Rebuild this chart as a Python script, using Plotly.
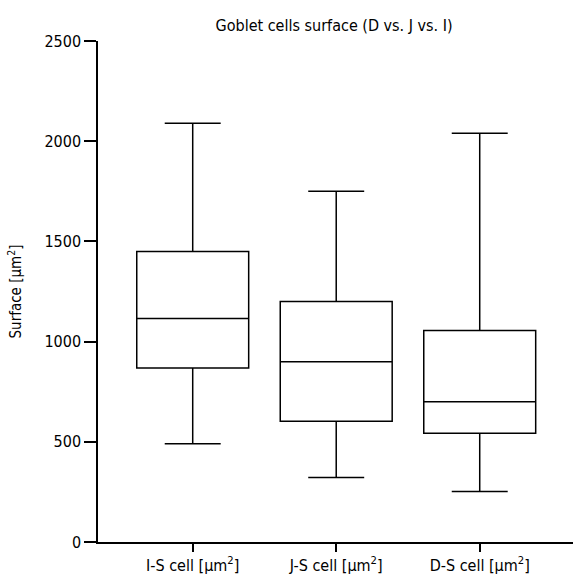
import plotly.graph_objects as go

categories = ["I-S cell [µm<sup>2</sup>]", "J-S cell [µm<sup>2</sup>]", "D-S cell [µm<sup>2</sup>]"]
upper = [2090, 1750, 2040]
q3 = [1450, 1200, 1055]
median = [1115, 900, 700]
q1 = [868, 602, 543]
lower = [490, 322, 252]
y_ticks = [0, 500, 1000, 1500, 2000, 2500]

FONT = "DejaVu Sans Condensed, Liberation Sans Narrow, sans-serif"

fig = go.Figure()
fig.add_trace(go.Box(
    x=categories,
    q1=q1, median=median, q3=q3,
    lowerfence=lower, upperfence=upper,
    line=dict(color="black", width=1.5),
    fillcolor="white",
    width=0.78,
    whiskerwidth=0.5,
    boxpoints=False,
    showlegend=False,
    hoverinfo="y",
))

# small downward extension of the y-axis below the x-axis (as in the reference)
fig.add_shape(type="line", xref="paper", yref="y", x0=0, x1=0,
              ysizemode="pixel", yanchor=0, y0=0, y1=-10,
              line=dict(color="black", width=1.5))

fig.update_layout(
    width=573, height=578,
    margin=dict(l=98, r=0, t=41, b=36, autoexpand=False),
    paper_bgcolor="white", plot_bgcolor="white",
    font=dict(family=FONT, color="black", size=15),
    title=dict(text="Goblet cells surface (D vs. J vs. I)", x=0.583, xanchor="center",
               y=1 - 25/578, yanchor="middle", font=dict(size=16, family=FONT)),
    xaxis=dict(
        type="category", range=[-0.66, 2.65], automargin=False,
        showline=True, linecolor="black", linewidth=1.5,
        ticks="outside", ticklen=8, tickwidth=1.5, tickcolor="black",
        showgrid=False, zeroline=False, tickfont=dict(size=16),
    ),
    yaxis=dict(
        range=[0, 2500], tickvals=y_ticks, automargin=False,
        showline=True, linecolor="black", linewidth=1.5,
        ticks="outside", ticklen=12, tickwidth=1.5, tickcolor="black",
        showgrid=False, zeroline=False, tickfont=dict(size=16),
        title=dict(text="Surface [µm<sup>2</sup>]", font=dict(size=15), standoff=19),
    ),
)

fig.write_html(
    "out.html",
    config={"displayModeBar": False},
    post_script="document.body.style.margin='0';document.body.style.overflow='hidden';",
)
